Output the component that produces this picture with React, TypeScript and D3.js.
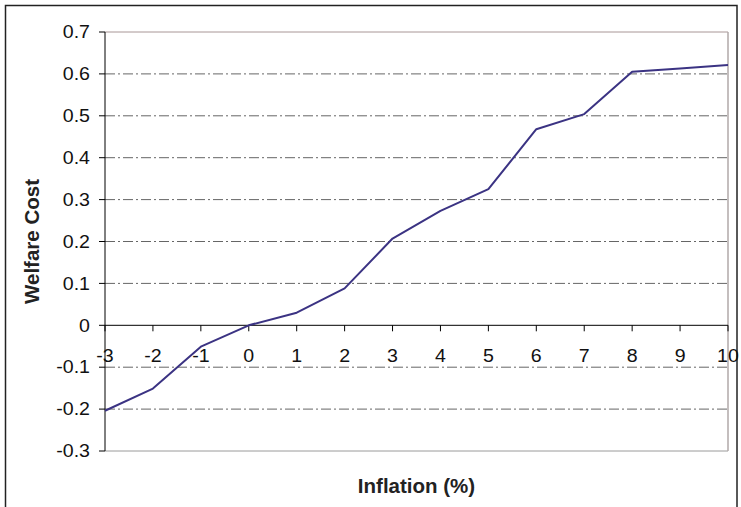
import React from 'react'
import * as d3 from 'd3'

const inflation = [-3, -2, -1, 0, 1, 2, 3, 4, 5, 6, 7, 8, 9, 10]
const welfareCost = [-0.204, -0.151, -0.051, 0, 0.03, 0.088, 0.207, 0.273, 0.325, 0.468, 0.504, 0.605, 0.613, 0.621]
const yTicks = [0.7, 0.6, 0.5, 0.4, 0.3, 0.2, 0.1, 0, -0.1, -0.2, -0.3]
const xTicks = [-3, -2, -1, 0, 1, 2, 3, 4, 5, 6, 7, 8, 9, 10]

const W = 741
const H = 507
const left = 105
const right = 728
const top = 32
const bottom = 451

const App = () => {
  const x = d3.scaleLinear().domain([-3, 10]).range([left, right])
  const y = d3.scaleLinear().domain([-0.3, 0.7]).range([bottom, top])
  const line = d3.line<number>()
    .x((d, i) => x(inflation[i]))
    .y(d => y(d))
  const font = 'Arial, "Liberation Sans", sans-serif'
  const fs = 17.5

  return (
    <svg width={W} height={H} style={{ position: 'absolute', left: 0, top: 0, background: '#fff' }}>
      {/* outer frame */}
      <rect x={5.5} y={5.5} width={731.5} height={510} fill="none" stroke="#222" strokeWidth={1.5} />

      {/* grid lines */}
      {yTicks.filter(t => t !== 0 && t !== 0.7 && t !== -0.3).map(t => (
        <line key={t} x1={left} x2={right} y1={y(t)} y2={y(t)}
          stroke="#666" strokeWidth={1} strokeDasharray="10,3,2,3" />
      ))}
      {/* plot border */}
      <line x1={left} x2={right} y1={y(0.7)} y2={y(0.7)} stroke="#a89696" strokeWidth={1} />
      <line x1={left} x2={right} y1={y(-0.3)} y2={y(-0.3)} stroke="#9a9a9a" strokeWidth={1} />
      <line x1={right} x2={right} y1={top} y2={bottom} stroke="#b0a8a8" strokeWidth={1.5} />

      {/* y axis */}
      <line x1={left} x2={left} y1={top} y2={bottom} stroke="#000" strokeWidth={1} />
      {yTicks.map(t => (
        <g key={t}>
          <line x1={left - 6} x2={left} y1={y(t)} y2={y(t)} stroke="#000" />
          <text transform={`translate(${left - 15},${y(t) + 6.2}) scale(1.12,1)`} textAnchor="end"
            fontFamily={font} fontSize={fs} fill="#111">
            {String(t)}
          </text>
        </g>
      ))}

      {/* x axis at zero */}
      <line x1={left} x2={right} y1={y(0)} y2={y(0)} stroke="#000" strokeWidth={1} />
      {xTicks.map(t => (
        <g key={t}>
          <line x1={x(t)} x2={x(t)} y1={y(0)} y2={y(0) + 6} stroke="#000" />
          <text transform={`translate(${x(t)},${y(0) + 37}) scale(1.12,1)`} textAnchor="middle"
            fontFamily={font} fontSize={fs} fill="#111">
            {String(t)}
          </text>
        </g>
      ))}

      {/* series */}
      <path d={line(welfareCost) || ''} fill="none" stroke="#3b3383" strokeWidth={2} strokeLinejoin="round" />

      {/* axis titles */}
      <text transform={`translate(39,${(top + bottom) / 2}) rotate(-90)`} textAnchor="middle"
        fontFamily={font} fontSize={20.5} fontWeight="bold" fill="#222">Welfare Cost</text>
      <text x={(left + right) / 2} y={493} textAnchor="middle"
        fontFamily={font} fontSize={20.5} fontWeight="bold" fill="#222">Inflation (%)</text>
    </svg>
  )
}

export default App
